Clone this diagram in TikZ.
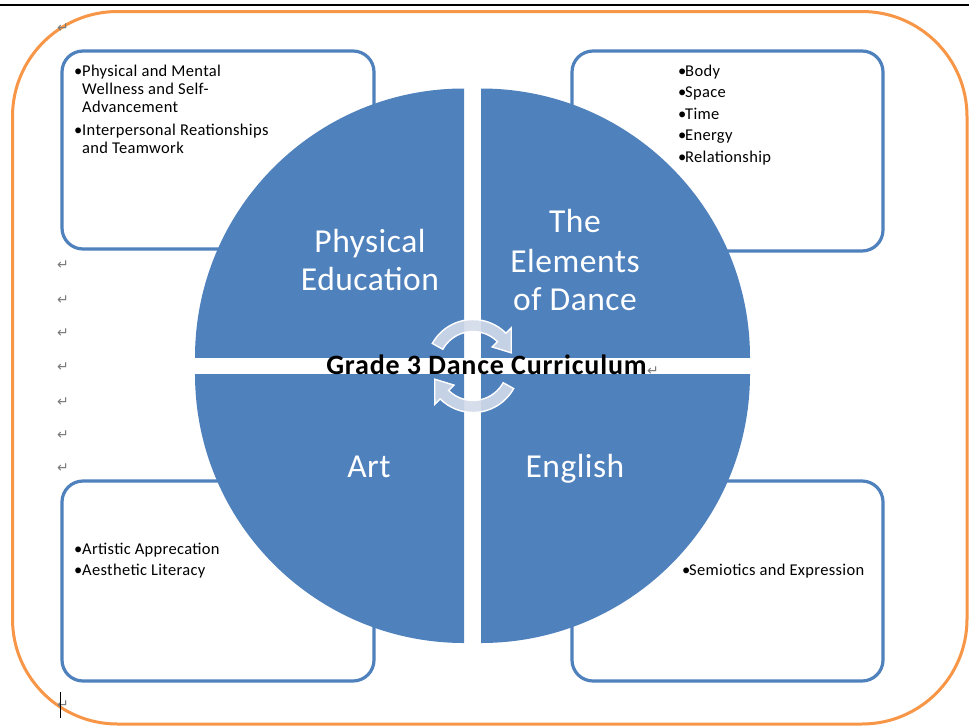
\documentclass[tikz,border=0pt]{standalone}
\usepackage{fontspec}
\setmainfont{Carlito}
\newfontfamily\dejavu{DejaVu Sans}
\usetikzlibrary{calc}
\definecolor{qblue}{HTML}{4F81BD}
\definecolor{qorange}{HTML}{F79646}
\definecolor{pmark}{HTML}{7A7A7A}
\definecolor{cyclefill}{HTML}{D2DBEA}
\newcommand\itembul[1][8pt]{\makebox[#1][l]{•}}
\begin{document}
\begin{tikzpicture}[x=1pt,y=-1pt,
  boxframe/.style={draw=qblue, line width=3.2pt, rounded corners=21pt, inner sep=0pt, outer sep=0pt},
  itemtext/.style={anchor=base west, inner sep=0pt, text=black,
    font=\fontsize{16.5}{18}\selectfont\addfontfeatures{LetterSpace=2}},
  quadlabel/.style={anchor=base, inner sep=0pt, text=white,
    font=\fontsize{33.5}{38}\selectfont\addfontfeatures{LetterSpace=1.5}},
  pmarkstyle/.style={inner sep=0pt, text=pmark, font=\dejavu\fontsize{14}{14}\selectfont},
  cyclearrow/.style={fill=cyclefill, fill opacity=0.9, draw=white, line width=1.4pt}]

\useasboundingbox (0,0) rectangle (969,726);
\fill[white] (0,0) rectangle (969,726);

% top rule and outer frame
\draw[line width=1.5pt, black] (0,5) -- (969,5);
\draw[qorange, line width=3pt, rounded corners=105pt] (12.5,11.5) rectangle (967,724);

% corner boxes
\node[boxframe, minimum width=312pt, minimum height=198pt] (tlbox) at (218,150) {};
\node[boxframe, minimum width=311pt, minimum height=200pt] (trbox) at (727.5,151) {};
\node[boxframe, minimum width=312pt, minimum height=200pt] (blbox) at (218,581) {};
\node[boxframe, minimum width=311pt, minimum height=200pt] (brbox) at (727.5,581) {};

% box texts
\node[itemtext] (tl1) at (74,76) {\itembul Physical and Mental};
\node[itemtext] (tl2) at (82,94) {Wellness and Self-};
\node[itemtext] (tl3) at (82,112) {Advancement};
\node[itemtext] (tl4) at (74,135) {\itembul Interpersonal Reationships};
\node[itemtext] (tl5) at (82,153) {and Teamwork};

\node[itemtext] (tr1) at (678,76) {\itembul[7pt]Body};
\node[itemtext] (tr2) at (678,97) {\itembul[7pt]Space};
\node[itemtext] (tr3) at (678,119) {\itembul[7pt]Time};
\node[itemtext] (tr4) at (678,140) {\itembul[7pt]Energy};
\node[itemtext] (tr5) at (678,162) {\itembul[7pt]Relationship};

\node[itemtext] (bl1) at (74,554) {\itembul Artistic Apprecation};
\node[itemtext] (bl2) at (74,575) {\itembul Aesthetic Literacy};

\node[itemtext] (br1) at (682,575) {\itembul[7pt]Semiotics and Expression};

% quadrants
\begin{scope}\clip (464,357.5) rectangle (150,50);
  \fill[qblue] (464,357.5) circle[radius=269];\end{scope}
\begin{scope}\clip (481,357.5) rectangle (800,50);
  \fill[qblue] (481,357.5) circle[radius=269];\end{scope}
\begin{scope}\clip (464,374) rectangle (150,700);
  \fill[qblue] (464,374) circle[radius=269];\end{scope}
\begin{scope}\clip (481,374) rectangle (800,700);
  \fill[qblue] (481,374) circle[radius=269];\end{scope}

% quadrant labels
\node[quadlabel] (pe1) at (370,252) {Physical};
\node[quadlabel] (pe2) at (370,290) {Education};
\node[quadlabel] (ed1) at (575,232) {The};
\node[quadlabel] (ed2) at (575,272) {Elements};
\node[quadlabel] (ed3) at (575,310) {of Dance};
\node[quadlabel] (art) at (369,477) {Art};
\node[quadlabel] (eng) at (575,477) {English};

% cycle arrows
\coordinate (cc) at (473,366);
\path[cyclearrow] ($(cc)+(-151:46.5)$) arc[start angle=-151, end angle=-45, radius=46.5]
  -- ($(cc)+(-45:54)$) -- ($(cc)+(-19:40.5)$) -- ($(cc)+(-45:27)$) -- ($(cc)+(-45:34.5)$)
  arc[start angle=-45, end angle=-151, radius=34.5] -- cycle;
\path[cyclearrow] ($(cc)+(29:46.5)$) arc[start angle=29, end angle=135, radius=46.5]
  -- ($(cc)+(135:54)$) -- ($(cc)+(161:40.5)$) -- ($(cc)+(135:27)$) -- ($(cc)+(135:34.5)$)
  arc[start angle=135, end angle=29, radius=34.5] -- cycle;

% title
\node[anchor=base, inner sep=0pt, text=black,
  font=\bfseries\fontsize{28}{30}\selectfont\addfontfeatures{LetterSpace=3}] (title) at (486.5,374) {Grade 3 Dance Curriculum};

% paragraph marks
\foreach \yy [count=\i] in {28,265,300,333,367,402,435,468,705}
  \node[pmarkstyle] (pm\i) at (63,\yy) {↵};
\node[pmarkstyle, anchor=west] (pmt) at (title.east |- 0,371) {↵};

% text cursor
\coordinate (curtop) at (60,692);
\coordinate (curbot) at (60,718);
\draw[line width=1pt, black] (curtop) -- (curbot);
\end{tikzpicture}
\end{document}
